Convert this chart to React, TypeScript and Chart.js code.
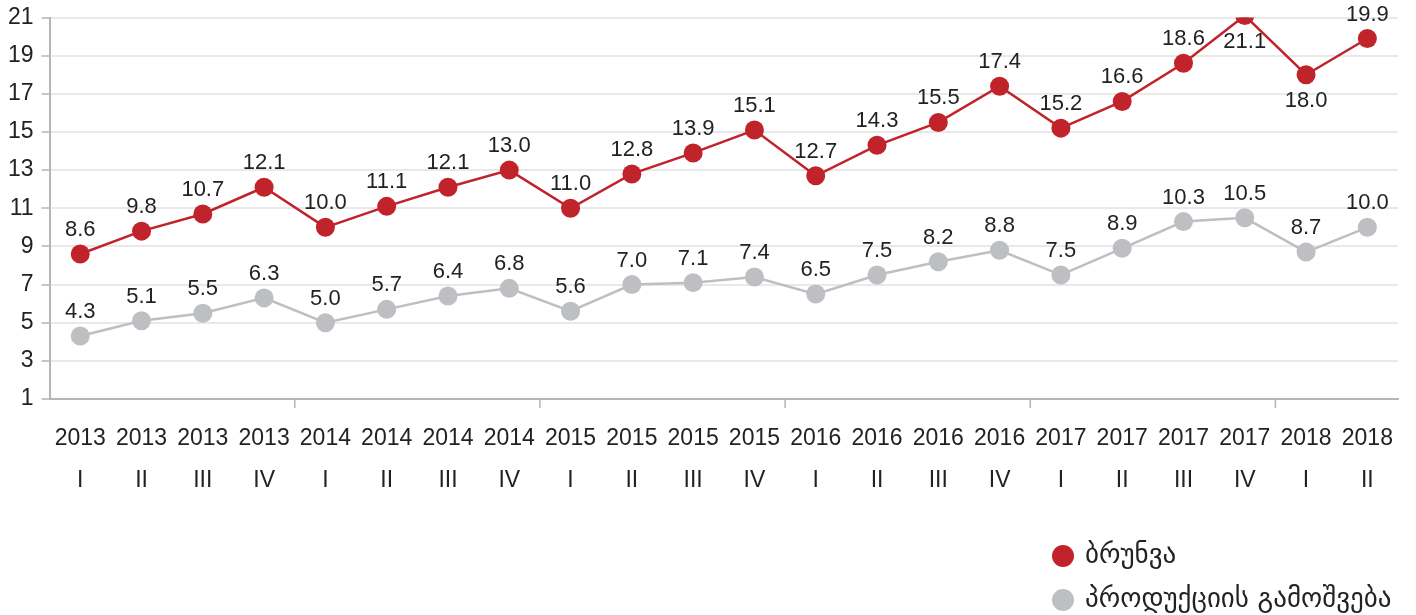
import React, { useEffect, useRef } from "react";
import { Chart, registerables } from "chart.js";

Chart.register(...registerables);

const years = ["2013","2013","2013","2013","2014","2014","2014","2014","2015","2015","2015","2015","2016","2016","2016","2016","2017","2017","2017","2017","2018","2018"];
const quarters = ["I","II","III","IV","I","II","III","IV","I","II","III","IV","I","II","III","IV","I","II","III","IV","I","II"];
const turnover = [8.6, 9.8, 10.7, 12.1, 10.0, 11.1, 12.1, 13.0, 11.0, 12.8, 13.9, 15.1, 12.7, 14.3, 15.5, 17.4, 15.2, 16.6, 18.6, 21.1, 18.0, 19.9];
const production = [4.3, 5.1, 5.5, 6.3, 5.0, 5.7, 6.4, 6.8, 5.6, 7.0, 7.1, 7.4, 6.5, 7.5, 8.2, 8.8, 7.5, 8.9, 10.3, 10.5, 8.7, 10.0];
const seriesNames = ["ბრუნვა", "პროდუქციის გამოშვება"];
const labelsBelowTurnover = [19, 20];

const RED = "#c1232b";
const GRAY = "#bebfc3";
const FONT = "'Liberation Sans', Arial, sans-serif";

const decorPlugin = {
  id: "decor",
  afterDatasetsDraw(chart: any) {
    const ctx = chart.ctx;
    const x = chart.scales.x;
    const area = chart.chartArea;
    ctx.save();
    // year-group ticks
    ctx.strokeStyle = "#b5b5b5";
    ctx.lineWidth = 1.5;
    for (let i = 1; i < years.length; i++) {
      if (years[i] !== years[i - 1]) {
        const px = (x.getPixelForValue(i - 1) + x.getPixelForValue(i)) / 2;
        ctx.beginPath();
        ctx.moveTo(px, area.bottom);
        ctx.lineTo(px, area.bottom + 9);
        ctx.stroke();
      }
    }
    // data labels
    ctx.font = `22px ${FONT}`;
    ctx.fillStyle = "#222222";
    ctx.textAlign = "center";
    ctx.textBaseline = "middle";
    chart.data.datasets.forEach((ds: any, di: number) => {
      const meta = chart.getDatasetMeta(di);
      meta.data.forEach((pt: any, i: number) => {
        const below = di === 0 && labelsBelowTurnover.includes(i);
        const y = below ? pt.y + 26 : pt.y - 24;
        ctx.fillText(Number(ds.data[i]).toFixed(1), pt.x, y);
      });
    });
    // legend
    const lx = 1063;
    const ly = [556, 600];
    chart.data.datasets.forEach((ds: any, di: number) => {
      ctx.fillStyle = ds.backgroundColor;
      ctx.beginPath();
      ctx.arc(lx, ly[di], 11, 0, Math.PI * 2);
      ctx.fill();
      ctx.fillStyle = "#222222";
      ctx.textAlign = "left";
      ctx.font = `27px 'DejaVu Sans', ${FONT}`;
      ctx.fillText(ds.label, lx + 22, ly[di]);
    });
    ctx.restore();
  },
};

export default function App() {
  const ref = useRef<HTMLCanvasElement>(null);
  useEffect(() => {
    document.body.style.margin = "0";
    const chart = new Chart(ref.current!, {
      type: "line",
      data: {
        labels: years.map((y, i) => [y, quarters[i]]),
        datasets: [
          {
            label: seriesNames[0],
            data: turnover,
            borderColor: RED,
            backgroundColor: RED,
            borderWidth: 2.5,
            pointRadius: 9.5,
            pointHoverRadius: 9.5,
            pointBorderWidth: 0,
            tension: 0,
          },
          {
            label: seriesNames[1],
            data: production,
            borderColor: GRAY,
            backgroundColor: GRAY,
            borderWidth: 2.5,
            pointRadius: 9.5,
            pointHoverRadius: 9.5,
            pointBorderWidth: 0,
            tension: 0,
          },
        ],
      },
      options: {
        animation: false,
        responsive: false,
        maintainAspectRatio: false,
        layout: { padding: { left: 0, right: 18, top: 17.5, bottom: 94 } },
        plugins: { legend: { display: false }, tooltip: { enabled: false } },
        scales: {
          x: {
            offset: true,
            grid: { display: false, drawTicks: false },
            border: { display: true, color: "#b5b5b5", width: 2 },
            ticks: {
              color: "#222222",
              font: { family: FONT, size: 23, lineHeight: 1.826 },
              padding: 19,
              maxRotation: 0,
              autoSkip: false,
            },
          },
          y: {
            min: 1,
            max: 21,
            ticks: {
              stepSize: 2,
              color: "#222222",
              font: { family: FONT, size: 23, lineHeight: 0.5 },
              padding: 8,
            },
            grid: {
              color: "#e9e9e9",
              lineWidth: 2,
              tickColor: "#b5b5b5",
              tickWidth: 1.5,
              tickLength: 8,
            },
            border: { display: true, color: "#b5b5b5", width: 2 },
          },
        },
      },
      plugins: [decorPlugin],
    });
    return () => chart.destroy();
  }, []);
  return <canvas ref={ref} width={1416} height={615} style={{ display: "block" }} />;
}
